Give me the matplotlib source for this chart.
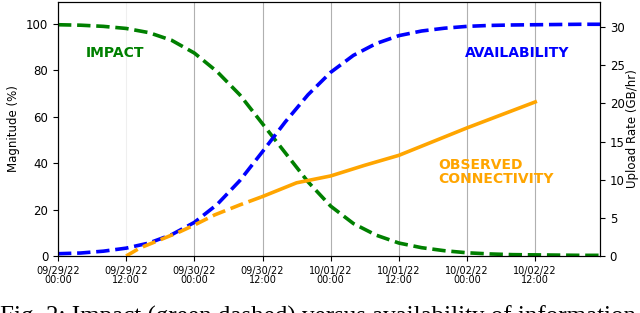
import numpy as np
import matplotlib
matplotlib.use("Agg")
from matplotlib import pyplot as plt

# hours since 09/29/22 00:00
hours = [0, 4, 8, 12, 16, 20, 24, 28, 32, 36, 40, 44, 48, 52, 56, 60, 64, 68, 72, 76, 80, 84, 88, 92, 96]
impact = [99.7, 99.5, 99.0, 98.1, 96.3, 93.0, 87.5, 79.5, 69.5, 57.0, 44.5, 32.0, 21.5, 14.0, 9.0,
          5.6, 3.6, 2.3, 1.4, 0.9, 0.6, 0.5, 0.4, 0.3, 0.3]
availability = [1.0, 1.3, 2.1, 3.4, 5.6, 9.2, 14.5, 22.2, 32.5, 45.0, 57.8, 69.5, 79.2, 86.5, 91.6,
                95.0, 97.0, 98.2, 99.0, 99.4, 99.6, 99.7, 99.8, 99.9, 99.9]

# observed upload rate (GB/hr): early estimate (dashed) then measured (solid)
obs_h_early = [12, 14.4, 17.9, 21.5, 24, 27.6, 32, 36]
obs_early = [0.0, 1.05, 2.1, 3.2, 4.06, 5.4, 6.7, 7.8]
obs_h = [36, 42, 48, 54, 60, 66, 72, 78, 84]
obs = [7.8, 9.6, 10.5, 11.9, 13.2, 15.0, 16.8, 18.5, 20.2]

tick_hours = [0, 12, 24, 36, 48, 60, 72, 84]
tick_labels = ["09/29/22\n00:00", "09/29/22\n12:00", "09/30/22\n00:00", "09/30/22\n12:00",
               "10/01/22\n00:00", "10/01/22\n12:00", "10/02/22\n00:00", "10/02/22\n12:00"]

fig = plt.figure(figsize=(6.4, 3.13), dpi=100)
ax = fig.add_axes([0.0906, 0.182, 0.8469, 0.8116])
ax.plot(hours, impact, color="green", linestyle="--", linewidth=2.6)
ax.plot(hours, availability, color="blue", linestyle="--", linewidth=2.6)
ax.set_xlim(0, 95.4)
ax.set_ylim(0, 109.5)
ax.set_xticks(tick_hours)
ax.set_xticklabels(tick_labels, fontsize=7, linespacing=0.9)
ax.tick_params(axis="y", labelsize=8.5)
ax.set_ylabel("Magnitude (%)", fontsize=8.5)
ax.grid(axis="x", color="#b0b0b0", linewidth=0.8)
ax.get_xgridlines()[1].set_alpha(0.2)

ax2 = ax.twinx()
ax2.plot(obs_h_early, obs_early, color="orange", linestyle="--", linewidth=2.6)
ax2.plot(obs_h, obs, color="orange", linestyle="-", linewidth=2.6)
ax2.set_ylim(0, 33.3)
ax2.set_yticks([0, 5, 10, 15, 20, 25, 30])
ax2.tick_params(axis="y", labelsize=8.5)
ax2.set_ylabel("Upload Rate (GB/hr)", fontsize=8.5, labelpad=1)

ax.text(0.105, 0.8, "IMPACT", transform=ax.transAxes, color="green", fontsize=10,
        fontweight="bold", ha="center", va="center")
ax.text(0.847, 0.8, "AVAILABILITY", transform=ax.transAxes, color="blue", fontsize=10,
        fontweight="bold", ha="center", va="center")
ax2.text(0.701, 0.331, "OBSERVED\nCONNECTIVITY", transform=ax.transAxes, color="orange",
         fontsize=10, fontweight="bold", ha="left", va="center", linespacing=1.0)

# caption, mostly below the bottom edge as in the original crop
fig.text(0.0, -0.035, "Fig. 2: Impact (green dashed) versus availability of information",
         family="Liberation Serif", fontsize=18, ha="left", va="baseline")

fig.savefig("out.png", dpi=100)
